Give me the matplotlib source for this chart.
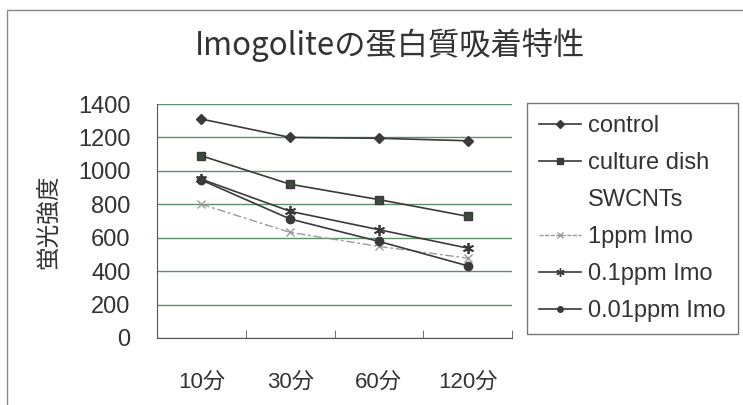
import matplotlib
matplotlib.use("Agg")
import matplotlib.pyplot as plt
from matplotlib.patches import Rectangle
from matplotlib.lines import Line2D

plt.rcParams['font.family'] = ['Liberation Sans', 'Noto Sans CJK JP']

# --- datos ---
categories = ["10分", "30分", "60分", "120分"]
control = [1310, 1200, 1195, 1180]
culture_dish = [1090, 920, 828, 728]
swcnts = [None, None, None, None]   # sin línea visible en la figura
ppm1 = [800, 632, 548, 478]
ppm01 = [950, 758, 648, 538]
ppm001 = [945, 712, 578, 432]
series_labels = ["control", "culture dish", "SWCNTs", "1ppm Imo", "0.1ppm Imo", "0.01ppm Imo"]
y_ticks = [0, 200, 400, 600, 800, 1000, 1200, 1400]

fig = plt.figure(figsize=(7.43, 4.05), dpi=100)
fig.patch.set_facecolor("white")

# marco exterior del gráfico
fig.add_artist(Rectangle((7 / 743, -0.05), 1.2, 1 - 10 / 405 + 0.05,
                         transform=fig.transFigure, fill=False,
                         edgecolor="#888888", linewidth=1.0))

ax = fig.add_axes([157 / 743, 1 - 338 / 405, (512 - 157) / 743, (338 - 104) / 405])
x = list(range(len(categories)))

dark = "#3a3a3a"
ax.plot(x, control, color=dark, lw=1.2, marker="D", ms=5)
ax.plot(x, culture_dish, color=dark, lw=1.2, marker="s", ms=6, mfc="#3c4a3c")
ax.plot(x, ppm1, color="#9a9a9a", lw=1.0, ls=(0, (6, 2, 2, 2)), marker="x", ms=6)
ax.plot(x, ppm01, color=dark, lw=1.2, marker=(6, 2, 0), ms=8, mew=1.3)
ax.plot(x, ppm001, color=dark, lw=1.2, marker="o", ms=6)

ax.set_xlim(-0.5, 3.5)
ax.set_ylim(0, 1400)
ax.set_yticks(y_ticks)
ax.yaxis.grid(True, color="#5f8f6a", lw=1.0)
ax.set_axisbelow(True)

ax.set_xticks(x)
ax.set_xticklabels(categories, fontsize=16, color="#333333")
ax.tick_params(axis="x", length=0, pad=24)
ax.set_xticks([0.5, 1.5, 2.5, 3.5], minor=True)
ax.tick_params(axis="x", which="minor", direction="in", length=6, color="#555555")
ax.tick_params(axis="y", labelsize=17, length=0, pad=19, labelcolor="#333333")

for side in ["top", "right"]:
    ax.spines[side].set_visible(False)
ax.spines["left"].set_color("#555555")
ax.spines["bottom"].set_color("#555555")

# título del eje Y (vertical)
fig.text(50 / 743, 1 - 222 / 405, "蛍光強度", rotation=90, ha="center", va="center",
         fontsize=17, color="#333333", family=['Noto Sans CJK JP'])

fig.text(0.525, 1 - 45 / 405, "Imogoliteの蛋白質吸着特性", ha="center", va="center",
         fontsize=22.5, color="#333333", family=['Noto Sans CJK JP'])

# leyenda
handles = [
    Line2D([], [], color=dark, lw=1.2, marker="D", ms=4),
    Line2D([], [], color=dark, lw=1.2, marker="s", ms=5),
    Line2D([], [], color="none"),
    Line2D([], [], color="#9a9a9a", lw=1.0, ls=(0, (3, 1)), marker="x", ms=5),
    Line2D([], [], color=dark, lw=1.2, marker=(6, 2, 0), ms=6),
    Line2D([], [], color=dark, lw=1.2, marker="o", ms=4),
]
leg = fig.legend(handles, series_labels, loc="upper left",
                 bbox_to_anchor=(527 / 743, 1 - 103 / 405), fontsize=17,
                 frameon=True, fancybox=False, edgecolor="#555555",
                 handlelength=1.8, handletextpad=0.3, labelspacing=0.64,
                 borderpad=0.5, borderaxespad=0)
leg.get_frame().set_linewidth(1.0)
for t in leg.get_texts():
    t.set_color("#333333")

fig.savefig("out.png", dpi=100)
